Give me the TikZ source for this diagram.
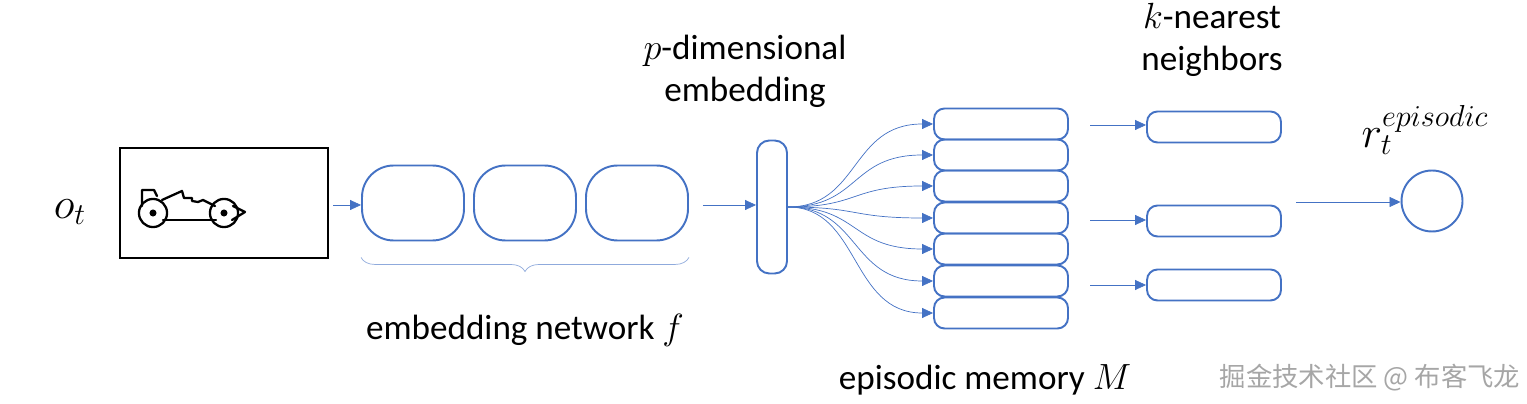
\documentclass[tikz,border=0pt]{standalone}
\usepackage{fontspec}
\setmainfont{Carlito}
\newfontfamily\cjk{Noto Sans CJK SC}
\usetikzlibrary{calc, arrows.meta, decorations.pathreplacing}
\definecolor{ppblue}{HTML}{4472C4}

\begin{document}
\begin{tikzpicture}[
    x=0.02cm, y=-0.02cm,
    block/.style={draw=ppblue, line width=1.1pt, rounded corners=18pt, minimum width=2.04cm, minimum height=1.5cm},
    cell/.style={draw=ppblue, line width=1.1pt, rounded corners=6pt, minimum width=2.68cm, minimum height=0.62cm},
    arrow/.style={-{Triangle[length=2.2mm, width=2mm]}, ppblue, thin},
    label node/.style={font=\fontsize{20}{24}\selectfont, align=center}
]
\useasboundingbox (0,0) rectangle (1527,404);

% Observation
\node[label node, font=\fontsize{24}{28}\selectfont] (obs) at (70,212) {$o_t$};
\node[draw, line width=1.2pt, minimum width=4.16cm, minimum height=2.2cm] (frame) at (224,203) {};
% car icon
\begin{scope}[line width=1.3pt, line cap=round, line join=round]
\draw (142,206) -- (142,190) -- (154,190) -- (157,196);
\draw (162,200) -- (182,191) -- (184,198) -- (192,198) -- (192,201) -- (198,202) -- (203,200) -- (215,206);
\draw (233,206) -- (245,212) -- (232,220);
\draw (163,220) -- (216,220);
\draw (153,213) circle (8pt) (224,213) circle (8pt);
\fill (153,213) circle (2pt) (224,213) circle (2pt);
\end{scope}

% Embedding network
\node[block] (f1) at (413,203) {};
\node[block] (f2) at (525,203) {};
\node[block] (f3) at (637,203) {};
\draw[arrow] ($(frame.east)+(4,2)$) -- (f1.west |- 0,205);
\draw[ppblue!60, decorate, decoration={brace, mirror, amplitude=8pt}] ($(f1.south west)+(0,16)$) -- ($(f3.south east)+(0,16)$);
\node[label node] (netlabel) at (525,330) {embedding network $f$};

% Embedding vector
\node[draw=ppblue, line width=1.1pt, rounded corners=7pt, minimum width=0.6cm, minimum height=2.66cm] (emb) at (772,207) {};
\draw[arrow] ($(f3.east)+(14,2)$) -- (emb.west |- 0,205);
\node[label node] (emblabel) at (745,71) {$p$-dimensional\\embedding};

% Episodic memory
\foreach \i/\y in {1/124,2/155,3/186,4/218,5/249,6/281,7/313} {
  \node[cell] (m\i) at (1001,\y) {};
  \draw[arrow] (emb.east) .. controls (860,207) and (850,\y) .. (m\i.west);
}
\node[label node] (memlabel) at (985,380) {episodic memory $M$};

% k-nearest neighbors
\node[cell] (k1) at (1214,127) {};
\node[cell] (k2) at (1214,221) {};
\node[cell] (k3) at (1214,285) {};
\coordinate (s1) at (1090,125);
\coordinate (s2) at (1090,220);
\coordinate (s3) at (1090,285);
\draw[arrow] (s1) -- (k1.west |- s1);
\draw[arrow] (s2) -- (k2.west |- s2);
\draw[arrow] (s3) -- (k3.west |- s3);
\node[label node] (knnlabel) at (1212,40) {$k$-nearest\\neighbors};

% Reward
\node[draw=ppblue, line width=1.1pt, circle, minimum size=1.22cm] (rew) at (1432,201) {};
\coordinate (ra) at (1296,202);
\draw[arrow] (ra) -- (rew.west |- ra);
\node[label node, font=\fontsize{24}{28}\selectfont] (rewlabel) at (1425,130) {$r_t^{episodic}$};

% watermark
\node[text=gray!70, font=\cjk\fontsize{15}{18}\selectfont] (wm) at (1370,378) {掘金技术社区 @ 布客飞龙};
\end{tikzpicture}
\end{document}
